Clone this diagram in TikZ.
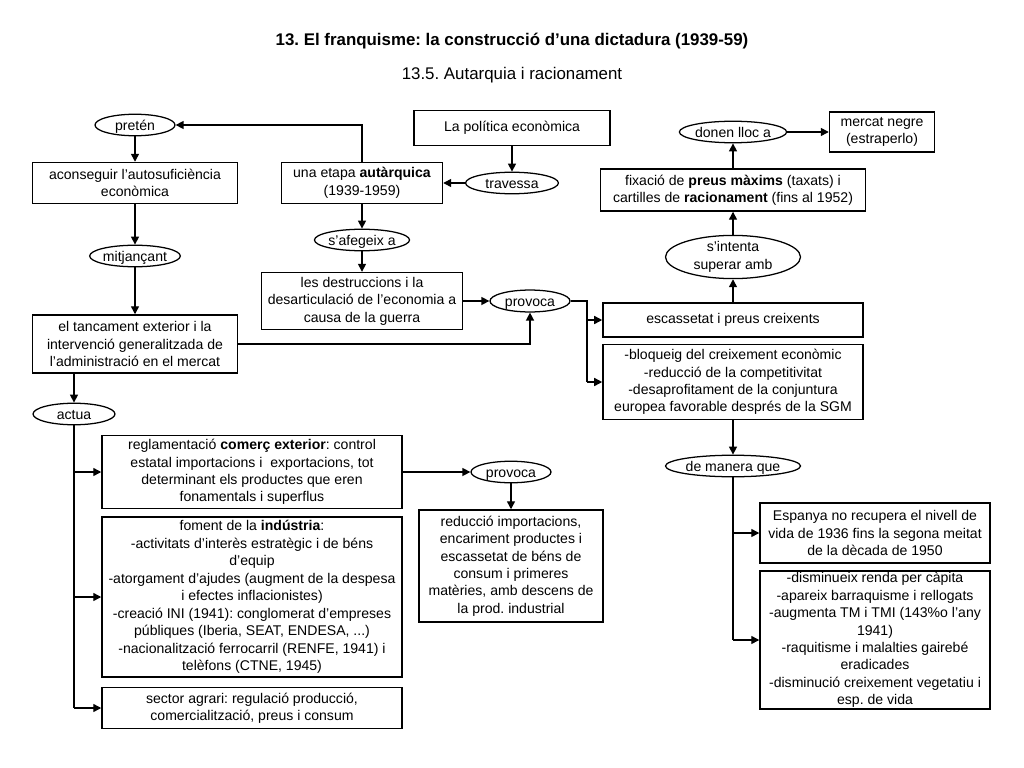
\documentclass[tikz,border=0pt]{standalone}
\usepackage{fontspec}
\setmainfont{Liberation Sans}
\usetikzlibrary{arrows.meta, positioning, shapes.geometric}
\frenchspacing

\begin{document}
\begin{tikzpicture}[x=0.025cm, y=-0.025cm, font=\fontsize{10}{12.4}\selectfont,
  box/.style 2 args={draw, line width=1pt, align=center, inner sep=1pt,
                     minimum width=#1, minimum height=#2},
  link/.style 2 args={draw, ellipse, line width=0.9pt, inner sep=0pt,
                      text height=1.7ex, text depth=0.35ex,
                      minimum width=#1, minimum height=#2},
  arr/.style={-{Triangle[length=2mm, width=2mm]}, line width=1pt},
  ln/.style={line width=1pt}
]
\useasboundingbox (0,0) rectangle (1024,768);

\node[font=\fontsize{12}{14}\selectfont\bfseries] (title) at (512,41)
  {13. El franquisme: la construcció d’una dictadura (1939-59)};
\node[font=\fontsize{12}{14}\selectfont] (subtitle) at (512,75) {13.5. Autarquia i racionament};

% left column
\node[link={56.9pt}{12.1pt}] (pret) at (135,125) {pretén};
\node[box={145.8pt}{29.2pt}] (acons) at (135,183) {aconseguir l’autosuficiència\\econòmica};
\node[link={58.3pt}{12.1pt}] (mitj) at (135,256) {mitjançant};
\node[box={145.8pt}{41.3pt}] (tanc) at (135,344)
  {el tancament exterior i la\\intervenció generalitzada de\\l’administració en el mercat};
\node[link={58.3pt}{14.2pt}] (actua) at (74,414) {actua};

% middle column
\node[box={139.4pt}{24.9pt}] (pol) at (512,128) {La política econòmica};
\node[link={66pt}{14.2pt}] (trav) at (512,183) {travessa};
\node[box={114.5pt}{29.2pt}] (etapa) at (362,183) {una etapa \textbf{autàrquica}\\(1939-1959)};
\node[link={53.3pt}{12.1pt}] (safeg) at (362,240) {s’afegeix a};
\node[box={143pt}{40.5pt}] (destr) at (362,301)
  {les destruccions i la\\desarticulació de l’economia a\\causa de la guerra};
\node[link={56.9pt}{15.6pt}] (prov) at (530,301) {provoca};
\coordinate (split) at (587,301);

% right column
\node[link={73.3pt}{12.1pt}] (donen) at (733,132) {donen lloc a};
\node[box={74.7pt}{28.5pt}] (negre) at (882,132) {mercat negre\\(estraperlo)};
\node[box={188.5pt}{29.9pt}] (fixa) at (733,190)
  {fixació de \textbf{preus màxims} (taxats) i\\cartilles de \textbf{racionament} (fins al 1952)};
\node[link={96pt}{28.5pt}, text height=, text depth=, align=center] (sint) at (733,257)
  {s’intenta\\superar amb};
\node[box={185pt}{24.2pt}] (esc) at (733,320) {escassetat i preus creixents};
\node[box={185pt}{53.3pt}] (bloq) at (733,382)
  {-bloqueig del creixement econòmic\\-reducció de la competitivitat\\-desaprofitament de la conjuntura\\europea favorable després de la SGM};
\node[link={96pt}{12.1pt}] (deman) at (733,466) {de manera que};
\node[box={163.6pt}{42.7pt}] (espa) at (875,533)
  {Espanya no recupera el nivell de\\vida de 1936 fins la segona meitat\\de la dècada de 1950};
\node[box={163.6pt}{96pt}] (dism) at (875,640)
  {-disminueix renda per càpita\\-apareix barraquisme i rellogats\\-augmenta TM i TMI (143\%o l’any\\1941)\\-raquitisme i malalties gairebé\\eradicades\\-disminució creixement vegetatiu i\\esp. de vida};

% bottom left
\node[box={213.4pt}{52pt}] (regl) at (252,472)
  {reglamentació \textbf{comerç exterior}: control\\estatal importacions i \ exportacions, tot\\determinant els productes que eren\\fonamentals i superflus};
\node[box={213.4pt}{113.8pt}] (fom) at (252,597)
  {foment de la \textbf{indústria}:\\-activitats d’interès estratègic i de béns\\d’equip\\-atorgament d’ajudes (augment de la despesa\\i efectes inflacionistes)\\-creació INI (1941): conglomerat d'empreses\\públiques (Iberia, SEAT, ENDESA, ...)\\-nacionalització ferrocarril (RENFE, 1941) i\\telèfons (CTNE, 1945)};
\node[box={213.4pt}{29.2pt}] (agr) at (252,708)
  {sector agrari: regulació producció,\\comercialització, preus i consum};
\node[link={56.9pt}{12.1pt}] (prov2) at (511,472) {provoca};
\node[box={130.9pt}{79.7pt}] (redu) at (511,566)
  {reducció importacions,\\encariment productes i\\escassetat de béns de\\consum i primeres\\matèries, amb descens de\\la prod. industrial};

% connectors
\draw[arr] (pol) -- (trav);
\draw[arr] (trav) -- (etapa);
\draw[arr] (etapa.north) |- (pret.east);
\draw[arr] (pret) -- (acons);
\draw[arr] (acons) -- (mitj);
\draw[arr] (mitj) -- (tanc);
\draw[arr] (etapa) -- (safeg);
\draw[arr] (safeg) -- (destr);
\draw[arr] (destr) -- (prov);
\draw[arr] (tanc.east) -| (prov.south);
\draw[ln] (prov.east) -- (split) -- (split |- bloq.west);
\foreach \b in {esc,bloq} \draw[arr] (split |- \b.west) -- (\b.west);
\draw[arr] (esc) -- (sint);
\draw[arr] (sint) -- (fixa);
\draw[arr] (fixa) -- (donen);
\draw[arr] (donen) -- (negre);
\draw[arr] (bloq) -- (deman);
\draw[ln] (deman.south) -- (deman |- dism.west);
\foreach \b in {espa,dism} \draw[arr] (deman |- \b.west) -- (\b.west);

\draw[arr] (actua |- tanc.south) -- (actua);
\draw[ln] (actua.south) -- (actua |- agr.west);
\foreach \b in {regl,fom,agr} \draw[arr] (actua |- \b.west) -- (\b.west);
\draw[arr] (regl) -- (prov2);
\draw[arr] (prov2) -- (redu);
\end{tikzpicture}
\end{document}
